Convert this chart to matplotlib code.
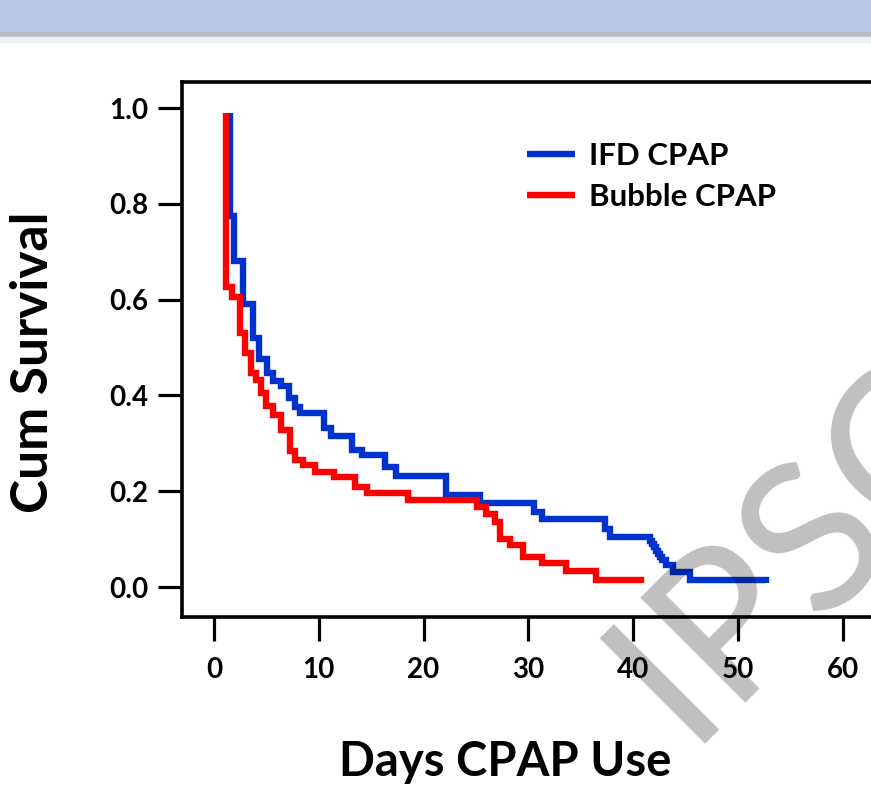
import matplotlib
matplotlib.use('Agg')
from matplotlib import pyplot as plt
from matplotlib.patches import Rectangle

# Kaplan-Meier style step data
ifd_start = 0.99
ifd_drop_days = [1.5, 1.95, 2.75, 3.7, 4.3, 5.1, 5.6, 6.4, 7.2, 7.7, 8.2, 10.5,
                 11.15, 13.2, 14.1, 16.35, 17.4, 22.1, 25.35, 30.5, 31.35, 37.3,
                 37.8, 41.6, 41.8, 42.0, 42.2, 42.4, 42.6, 42.8, 43.1, 43.8, 45.4, 52.65]
ifd_surv = [0.775, 0.68, 0.59, 0.519, 0.477, 0.447, 0.43, 0.42, 0.395, 0.375,
            0.363, 0.333, 0.316, 0.287, 0.275, 0.251, 0.232, 0.192, 0.175, 0.157,
            0.141, 0.122, 0.104, 0.097, 0.090, 0.083, 0.076, 0.069, 0.062, 0.056,
            0.046, 0.032, 0.015, 0.008]
ifd_last_day = 52.7

bubble_start = 0.99
bubble_drop_days = [1.15, 1.7, 2.5, 3.0, 3.5, 4.0, 4.5, 5.0, 5.6, 6.4, 7.25, 7.7,
                    8.5, 9.6, 11.5, 13.5, 14.6, 18.5, 25.1, 26.0, 26.8, 27.3, 28.3,
                    29.5, 31.3, 33.6, 36.5, 40.75]
bubble_surv = [0.627, 0.605, 0.531, 0.488, 0.447, 0.432, 0.404, 0.378, 0.36,
               0.328, 0.283, 0.266, 0.255, 0.241, 0.23, 0.209, 0.197, 0.182, 0.167,
               0.153, 0.135, 0.100, 0.088, 0.063, 0.051, 0.033, 0.015, 0.008]
bubble_last_day = 40.8

series_names = ['IFD CPAP', 'Bubble CPAP']
series_colors = ['#0033CC', '#FF0000']
x_ticks = [0, 10, 20, 30, 40, 50, 60]
y_ticks = [0.0, 0.2, 0.4, 0.6, 0.8, 1.0]


def step_xy(start, days, surv, last_day):
    xs = [days[0]] + list(days) + [last_day]
    ys = [start] + list(surv) + [surv[-1]]
    return xs, ys


W, H = 871, 788
plt.rcParams['font.family'] = ['Lato', 'DejaVu Sans']
plt.rcParams['font.weight'] = 'bold'

fig = plt.figure(figsize=(W / 100, H / 100), dpi=100)
fig.patch.set_facecolor('white')

# slide header band
fig.patches.append(Rectangle((0, 1 - 31 / H), 1, 31 / H, transform=fig.transFigure,
                             color='#B8C9E6', zorder=0))
fig.patches.append(Rectangle((0, 1 - 37 / H), 1, 5 / H, transform=fig.transFigure,
                             color='#B9BCC2', zorder=0))
fig.patches.append(Rectangle((0, 1 - 42 / H), 1, 5 / H, transform=fig.transFigure,
                             color='#EEF0F3', zorder=0))

left, right, top, bottom = 182, 906, 82, 617
ax = fig.add_axes([left / W, 1 - bottom / H, (right - left) / W, (bottom - top) / H])
ax.set_xlim(-3.05, 66.05)
ax.set_ylim(-0.0626, 1.0543)

xs, ys = step_xy(ifd_start, ifd_drop_days, ifd_surv, ifd_last_day)
ax.step(xs, ys, where='post', color=series_colors[0], lw=4.6,
        solid_joinstyle='miter', solid_capstyle='butt', label=series_names[0])
xs, ys = step_xy(bubble_start, bubble_drop_days, bubble_surv, bubble_last_day)
ax.step(xs, ys, where='post', color=series_colors[1], lw=4.6,
        solid_joinstyle='miter', solid_capstyle='butt', label=series_names[1])

for side in ['left', 'bottom', 'top', 'right']:
    ax.spines[side].set_linewidth(2.6)
ax.set_xticks(x_ticks)
ax.set_xticklabels([str(v) for v in x_ticks])
ax.set_yticks(y_ticks)
ax.set_yticklabels([f'{v:.1f}' for v in y_ticks])
ax.tick_params(axis='both', direction='out', length=17, width=2.3, labelsize=20)
ax.tick_params(axis='x', pad=12)
ax.tick_params(axis='y', pad=7)

leg = ax.legend(loc='upper left', bbox_to_anchor=(511 / W, 1 - 126 / H),
                bbox_transform=fig.transFigure, frameon=False, fontsize=22.5,
                handlelength=1.55, handletextpad=0.45, labelspacing=0.42,
                borderpad=0)

ax.set_xlabel('Days CPAP Use', fontsize=34, fontweight='bold')
ax.xaxis.set_label_coords(505 / W, 1 - 762 / H, transform=fig.transFigure)
ax.xaxis.label.set_va('center')
ax.set_ylabel('Cum Survival', fontsize=37, fontweight='bold')
ax.yaxis.set_label_coords(33 / W, 1 - 362 / H, transform=fig.transFigure)
ax.yaxis.label.set_va('center')

# watermark over everything
fig.text(686 / W, 1 - 744 / H, 'IPSC', rotation=45, rotation_mode='anchor',
         ha='left', va='baseline', fontsize=150, fontweight='normal',
         color='black', alpha=0.25, zorder=10)

fig.savefig('out.png', dpi=100)
